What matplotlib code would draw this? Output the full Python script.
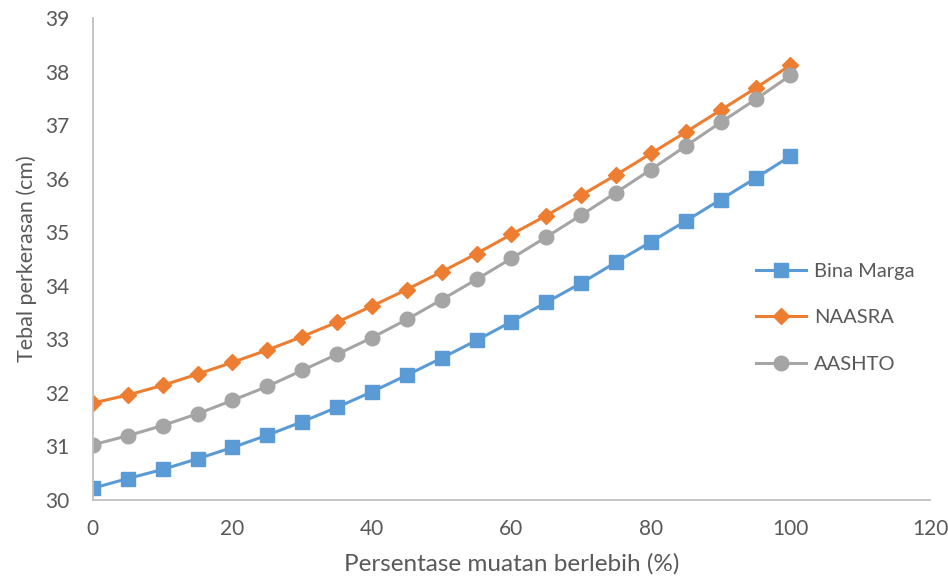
import matplotlib
matplotlib.use("Agg")
import matplotlib.pyplot as plt

# Overload percentage (%)
muatan = [0, 5, 10, 15, 20, 25, 30, 35, 40, 45, 50,
          55, 60, 65, 70, 75, 80, 85, 90, 95, 100]

# Pavement thickness (cm) per method
bina_marga = [30.22, 30.40, 30.57, 30.77, 30.98, 31.21, 31.46, 31.73, 32.02, 32.33, 32.65,
              32.98, 33.33, 33.69, 34.05, 34.44, 34.82, 35.21, 35.61, 36.01, 36.42]
naasra = [31.81, 31.96, 32.14, 32.35, 32.57, 32.80, 33.05, 33.32, 33.62, 33.93, 34.26,
          34.60, 34.96, 35.31, 35.69, 36.07, 36.47, 36.87, 37.28, 37.69, 38.12]
aashto = [31.03, 31.20, 31.39, 31.61, 31.86, 32.12, 32.42, 32.72, 33.03, 33.37, 33.74,
          34.12, 34.51, 34.91, 35.32, 35.74, 36.17, 36.61, 37.05, 37.48, 37.93]

x_ticks = [0, 20, 40, 60, 80, 100, 120]
y_ticks = [30, 31, 32, 33, 34, 35, 36, 37, 38, 39]

plt.rcParams['font.family'] = ['Lato', 'DejaVu Sans']

fig = plt.figure(figsize=(9.48, 5.86), dpi=100)
ax = fig.add_axes([0.098, 0.1468, 0.883, 0.8225])

text_color = '#595959'
axis_color = '#bfbfbf'

ax.plot(muatan, bina_marga, color='#5B9BD5', lw=2.2, marker='s', ms=10.5,
        label='Bina Marga')
ax.plot(muatan, naasra, color='#ED7D31', lw=2.2, marker='D', ms=8.5,
        label='NAASRA')
ax.plot(muatan, aashto, color='#A5A5A5', lw=2.2, marker='o', ms=10.5,
        label='AASHTO')

ax.set_xlim(0, 120)
ax.set_ylim(30, 39)
ax.set_xticks(x_ticks)
ax.set_yticks(y_ticks)

for side in ('top', 'right'):
    ax.spines[side].set_visible(False)
for side in ('left', 'bottom'):
    ax.spines[side].set_color(axis_color)
    ax.spines[side].set_linewidth(1.3)

ax.tick_params(axis='both', length=0, labelsize=15, colors=text_color)
ax.tick_params(axis='x', pad=14)
ax.tick_params(axis='y', pad=17)

ax.set_xlabel('Persentase muatan berlebih (%)', fontsize=17.5, color=text_color, labelpad=10)
ax.set_ylabel('Tebal perkerasan (cm)', fontsize=15.5, color=text_color, labelpad=6)

ax.legend(loc='center left', bbox_to_anchor=(0.77, 0.378), frameon=False,
          fontsize=14.5, labelcolor=text_color, handlelength=2.5,
          handletextpad=0.4, labelspacing=1.45)

fig.savefig('out.png', dpi=100)
